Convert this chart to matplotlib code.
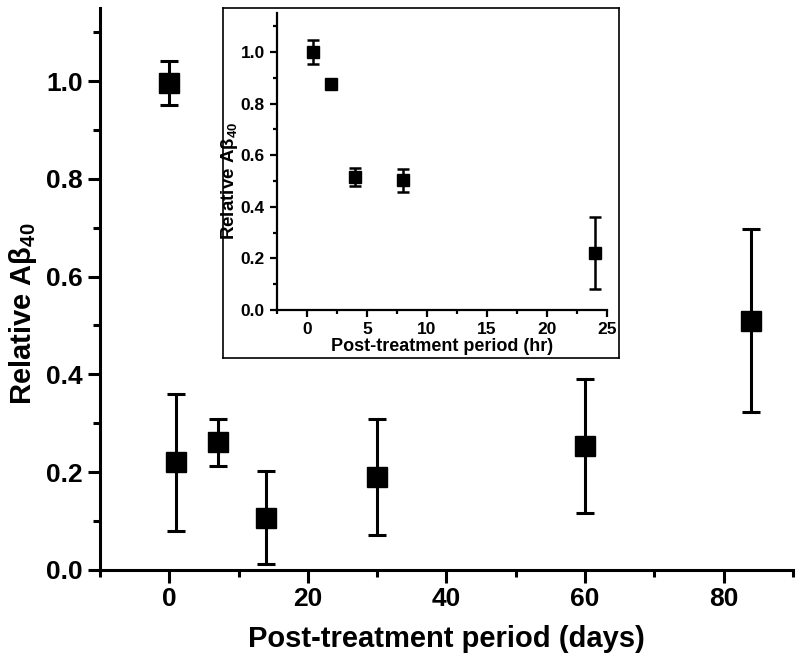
import numpy as np
import matplotlib
matplotlib.use('Agg')
import matplotlib.pyplot as plt

plt.rcParams['font.family'] = ['Liberation Sans', 'DejaVu Sans']
plt.rcParams['font.weight'] = 'bold'
plt.rcParams['mathtext.fontset'] = 'custom'
plt.rcParams['mathtext.rm'] = 'Liberation Sans:bold'
plt.rcParams['mathtext.bf'] = 'Liberation Sans:bold'

# main plot: days
days = [0, 1, 7, 14, 30, 60, 84]
days_val = [0.997, 0.22, 0.261, 0.107, 0.19, 0.254, 0.51]
days_err = [0.045, 0.14, 0.048, 0.096, 0.118, 0.137, 0.187]

# inset: hours
hours = [0.5, 2, 4, 8, 24]
hours_val = [1.0, 0.875, 0.515, 0.502, 0.22]
hours_err = [0.046, 0.012, 0.034, 0.046, 0.139]

ylabel = 'Relative A\u03b2$_{40}$'

fig = plt.figure(figsize=(8, 6.61), dpi=100)

ax = fig.add_axes([0.125, 0.138, 0.866, 0.85])
ax.errorbar(days, days_val, yerr=days_err, fmt='s', color='black',
            markersize=14, elinewidth=2.2, capsize=6.5, capthick=2.2)
ax.set_xlim(-10, 90)
ax.set_ylim(0, 1.15)
ax.set_xticks([0, 20, 40, 60, 80])
ax.set_xticks(np.arange(-10, 91, 10), minor=True)
ax.set_yticks([0.0, 0.2, 0.4, 0.6, 0.8, 1.0])
ax.set_yticks(np.arange(0.1, 1.15, 0.2), minor=True)
ax.yaxis.set_major_formatter(matplotlib.ticker.FormatStrFormatter('%.1f'))
for s in ['top', 'right']:
    ax.spines[s].set_visible(False)
for s in ['left', 'bottom']:
    ax.spines[s].set_linewidth(2.2)
ax.tick_params(which='major', direction='out', length=9, width=2.2, labelsize=19)
ax.tick_params(which='minor', direction='out', length=5, width=2.2)
ax.set_xlabel('Post-treatment period (days)', fontsize=21, fontweight='bold', labelpad=10)
ax.set_ylabel(ylabel, fontsize=21, fontweight='bold')
ax.yaxis.set_label_coords(-0.088, 0.455)

# inset frame
frame = fig.add_axes([0.279, 0.458, 0.495, 0.53])
frame.set_xticks([])
frame.set_yticks([])
frame.patch.set_facecolor('white')
for s in frame.spines.values():
    s.set_linewidth(1.2)

ins = fig.add_axes([0.346, 0.531, 0.4125, 0.449])
ins.errorbar(hours, hours_val, yerr=hours_err, fmt='s', color='black',
             markersize=8.5, elinewidth=1.8, capsize=4.5, capthick=1.8)
ins.set_xlim(-2.5, 25)
ins.set_ylim(0, 1.15)
ins.set_xticks([0, 5, 10, 15, 20, 25])
ins.set_xticks(np.arange(-2.5, 25.1, 2.5), minor=True)
ins.set_yticks([0.0, 0.2, 0.4, 0.6, 0.8, 1.0])
ins.set_yticks(np.arange(0.1, 1.15, 0.2), minor=True)
ins.yaxis.set_major_formatter(matplotlib.ticker.FormatStrFormatter('%.1f'))
ins.patch.set_alpha(0)
for s in ['top', 'right']:
    ins.spines[s].set_visible(False)
for s in ['left', 'bottom']:
    ins.spines[s].set_linewidth(1.6)
ins.tick_params(which='major', direction='out', length=5, width=1.6, labelsize=12.5)
ins.tick_params(which='minor', direction='out', length=3, width=1.6)
ins.set_xlabel('Post-treatment period (hr)', fontsize=13, fontweight='bold', labelpad=1)
ins.set_ylabel(ylabel, fontsize=13.5, fontweight='bold')
ins.yaxis.set_label_coords(-0.11, 0.435)

fig.savefig('out.png', dpi=100)
